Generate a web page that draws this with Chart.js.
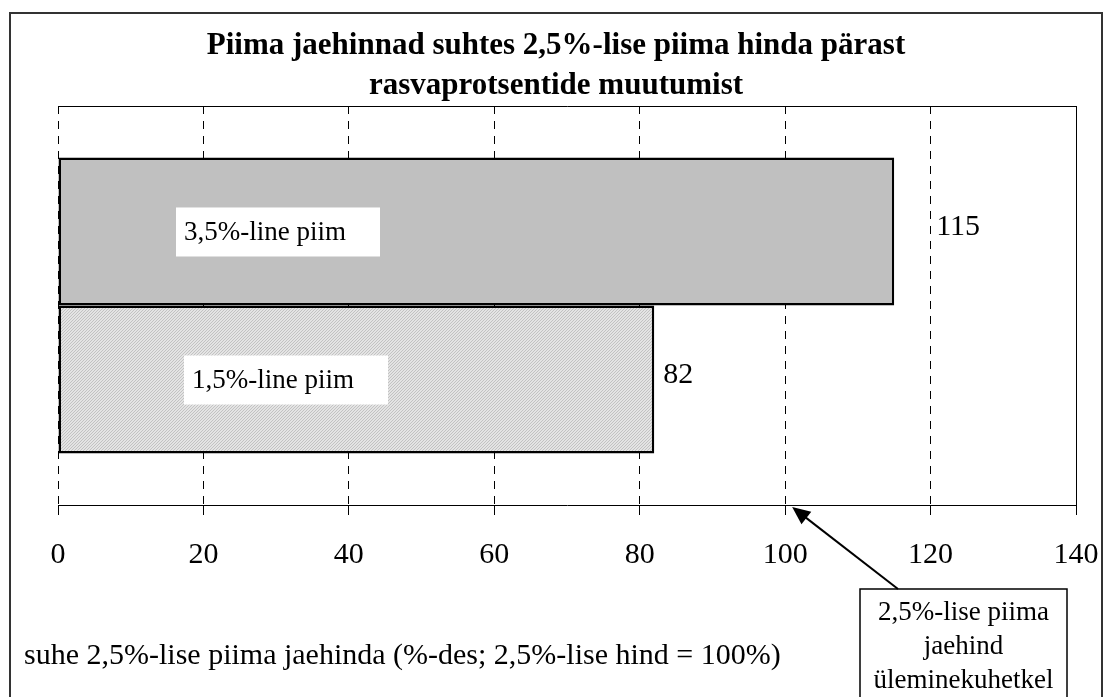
<!DOCTYPE html>
<html>
<head>
<meta charset="utf-8">
<script src="https://cdn.jsdelivr.net/npm/chart.js@4.4.0/dist/chart.umd.min.js"></script>
<style>
  body { margin: 0; background: #fff; }
  #wrap { width: 1104px; height: 697px; }
</style>
</head>
<body>
<div id="wrap"><canvas id="myChart"></canvas></div>
<script>
const titleLines = ['Piima jaehinnad suhtes 2,5%-lise piima hinda pärast', 'rasvaprotsentide muutumist'];
const seriesNames = ['3,5%-line piim', '1,5%-line piim'];
const seriesValues = [115, 82];
const xMin = 0, xMax = 140, xStep = 20;
const axisNote = 'suhe 2,5%-lise piima jaehinda (%-des; 2,5%-lise hind = 100%)';
const calloutLines = ['2,5%-lise piima', 'jaehind', 'üleminekuhetkel'];
const calloutValue = 100;

const SERIF = '"Liberation Serif", "Times New Roman", serif';
const canvas = document.getElementById('myChart');

// fine diagonal hatch for the lower bar
function hatch() {
    const c = document.createElement('canvas');
    c.width = 3; c.height = 3;
    const g = c.getContext('2d');
    g.fillStyle = '#e4e4e4';
    g.fillRect(0, 0, 3, 3);
    g.fillStyle = '#c2c2c2';
    for (let i = 0; i < 3; i++) g.fillRect(i, 2 - i, 1, 1);
    return canvas.getContext('2d').createPattern(c, 'repeat');
}

const fills = ['#c0c0c0', hatch()];
const boxOffsets = [118, 126];   // label box distance from the axis start
const valueOffsets = [42, 9];    // value label distance from the bar end

const extras = {
    id: 'extras',
    afterDraw(chart) {
        const ctx = chart.ctx;
        const area = chart.chartArea;
        const xs = chart.scales.x;
        ctx.save();

        // plot frame (top + right solid)
        ctx.strokeStyle = '#000';
        ctx.lineWidth = 1;
        ctx.beginPath();
        ctx.moveTo(area.left, area.top + 0.5);
        ctx.lineTo(area.right + 0.5, area.top + 0.5);
        ctx.lineTo(area.right + 0.5, area.bottom);
        ctx.stroke();

        // outer frame
        ctx.strokeStyle = '#333';
        ctx.lineWidth = 2;
        ctx.strokeRect(10, 13, 1092, 720);

        // title
        ctx.fillStyle = '#000';
        ctx.font = 'bold 31px ' + SERIF;
        ctx.textAlign = 'center';
        ctx.textBaseline = 'middle';
        titleLines.forEach((t, i) => ctx.fillText(t, 556, 46 + i * 40));

        // labels in and next to the bars
        chart.data.datasets.forEach((ds, i) => {
            const bar = chart.getDatasetMeta(i).data[0];
            const bx = area.left + boxOffsets[i];
            ctx.fillStyle = '#fff';
            ctx.fillRect(bx, bar.y - 24, 204, 49);
            ctx.fillStyle = '#000';
            ctx.font = '27px ' + SERIF;
            ctx.textAlign = 'left';
            ctx.fillText(ds.label, bx + 8, bar.y + 1);

            ctx.font = '30px ' + SERIF;
            ctx.fillText(String(ds.data[0]), xs.getPixelForValue(ds.data[0]) + valueOffsets[i], bar.y - 4);
        });

        // note under the axis
        ctx.font = '30px ' + SERIF;
        ctx.textAlign = 'left';
        ctx.fillText(axisNote, 24, 656);

        // callout box
        ctx.strokeStyle = '#000';
        ctx.lineWidth = 1.5;
        ctx.fillStyle = '#fff';
        ctx.fillRect(860, 589, 207, 120);
        ctx.strokeRect(860, 589, 207, 120);
        ctx.fillStyle = '#000';
        ctx.font = '27px ' + SERIF;
        ctx.textAlign = 'center';
        calloutLines.forEach((t, i) => ctx.fillText(t, 963.5, 613 + i * 34));

        // arrow to the 100 mark
        const sx = 898, sy = 589;
        const tx = xs.getPixelForValue(calloutValue) + 7, ty = area.bottom + 2;
        const ang = Math.atan2(ty - sy, tx - sx);
        ctx.lineWidth = 2;
        ctx.beginPath();
        ctx.moveTo(sx, sy);
        ctx.lineTo(tx - 12 * Math.cos(ang), ty - 12 * Math.sin(ang));
        ctx.stroke();
        ctx.beginPath();
        ctx.moveTo(tx, ty);
        ctx.lineTo(tx - 18 * Math.cos(ang) + 8 * Math.sin(ang), ty - 18 * Math.sin(ang) - 8 * Math.cos(ang));
        ctx.lineTo(tx - 18 * Math.cos(ang) - 8 * Math.sin(ang), ty - 18 * Math.sin(ang) + 8 * Math.cos(ang));
        ctx.closePath();
        ctx.fill();

        ctx.restore();
    }
};

new Chart(canvas, {
    type: 'bar',
    data: {
        labels: [''],
        datasets: seriesNames.map((name, i) => ({
            label: name,
            data: [seriesValues[i]],
            backgroundColor: fills[i],
            borderColor: '#000',
            borderWidth: 2.5,
            borderSkipped: false,
            categoryPercentage: 0.742,
            barPercentage: 1
        }))
    },
    options: {
        indexAxis: 'y',
        responsive: true,
        maintainAspectRatio: false,
        animation: false,
        layout: { padding: { left: 58, right: 28, top: 106, bottom: 0 } },
        plugins: { legend: { display: false }, tooltip: { enabled: false } },
        scales: {
            x: {
                min: xMin,
                max: xMax,
                afterFit: (s) => { s.height = 192; s.paddingLeft = 0; s.paddingRight = 0; },
                ticks: { stepSize: xStep, color: '#000', font: { family: SERIF, size: 30 }, padding: 22, maxRotation: 0 },
                grid: { color: '#000', lineWidth: 1, tickLength: 10, tickColor: '#000' },
                border: { display: true, color: '#000', width: 1, dash: [8, 7] }
            },
            y: { display: false }
        }
    },
    plugins: [extras]
});
</script>
</body>
</html>
